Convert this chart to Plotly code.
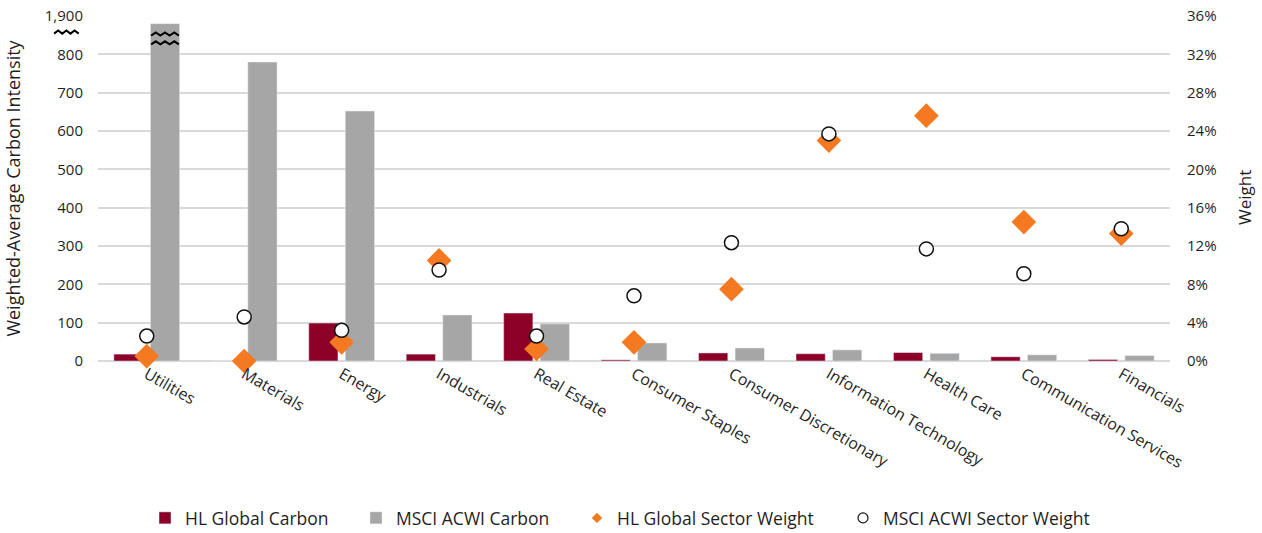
import plotly.graph_objects as go

sectors = ["Utilities", "Materials", "Energy", "Industrials", "Real Estate", "Consumer Staples",
           "Consumer Discretionary", "Information Technology", "Health Care",
           "Communication Services", "Financials"]
hl_carbon = [18, 0, 99, 18, 125, 3, 21, 19, 22, 11, 4]
msci_carbon = [1880, 780, 652, 120, 97, 47, 34, 29, 20, 16, 14]
hl_weight = [0.5, 0.0, 1.95, 10.5, 1.25, 1.95, 7.5, 23.0, 25.6, 14.5, 13.3]
msci_weight = [2.6, 4.6, 3.2, 9.5, 2.6, 6.8, 12.35, 23.7, 11.7, 9.1, 13.8]

left_ticks = [0, 100, 200, 300, 400, 500, 600, 700, 800, 900]
left_ticktext = ["0", "100", "200", "300", "400", "500", "600", "700", "800", "1,900"]
BREAK_SHIFT = 1000  # broken axis: values above 850 are shown 1,000 lower


def shown(v):
    return v - BREAK_SHIFT if v > 850 else v


FONT = "Open Sans"
TXT = "#1f1f1f"
RED = "#8C0028"
GRAY = "#A6A6A6"
ORANGE = "#F47920"

fig = go.Figure()
fig.add_bar(x=sectors, y=hl_carbon, name="HL Global Carbon", marker_color=RED, yaxis="y",
            legend="legend")
fig.add_bar(x=sectors, y=[shown(v) for v in msci_carbon], name="MSCI ACWI Carbon",
            marker_color=GRAY, yaxis="y", legend="legend2")
fig.add_scatter(x=sectors, y=[w / 100 for w in hl_weight], name="HL Global Sector Weight",
                mode="markers", yaxis="y2", showlegend=False, cliponaxis=False,
                marker=dict(symbol="diamond", size=19, color=ORANGE, line=dict(width=0)))
fig.add_scatter(x=sectors, y=[w / 100 for w in msci_weight], name="MSCI ACWI Sector Weight",
                mode="markers", yaxis="y2", showlegend=False, cliponaxis=False,
                marker=dict(symbol="circle", size=14, color="white", line=dict(width=1.5, color="#111")))
# legend entries with smaller symbols
fig.add_scatter(x=[None], y=[None], name="HL Global Sector Weight", mode="markers", yaxis="y2",
                legend="legend3",
                marker=dict(symbol="diamond", size=8, color=ORANGE, line=dict(width=0)))
fig.add_scatter(x=[None], y=[None], name="MSCI ACWI Sector Weight", mode="markers", yaxis="y2",
                legend="legend4",
                marker=dict(symbol="circle", size=10, color="white", line=dict(width=1.2, color="#111")))


def zigzag(x0, x1, y, n, amp):
    pts = []
    step = (x1 - x0) / n
    for i in range(n + 1):
        pts.append((x0 + i * step, y + (amp if i % 2 else -amp)))
    return "M " + " L ".join(f"{px},{py}" for px, py in pts)


shapes = []
for yy in (853, 830):
    shapes.append(dict(type="path", xref="x", yref="y", path=zigzag(0.045, 0.33, yy, 6, 4),
                       line=dict(color="black", width=2)))
shapes.append(dict(type="path", xref="paper", yref="y",
                   path=zigzag(-0.041, -0.018, 858, 6, 4), line=dict(color="black", width=2)))

PW = 1262 - 98 - 92
PH = 533 - 16 - 172


def lx(px):
    return (px - 98) / PW


def ly(py):
    return (361 - py) / PH


legend_common = dict(orientation="h", y=ly(518), yanchor="middle", xanchor="left",
                     font=dict(family=FONT, size=17.5, color=TXT), bgcolor="rgba(0,0,0,0)")

fig.update_layout(
    width=1262, height=533,
    margin=dict(l=98, r=92, t=16, b=172, autoexpand=False),
    paper_bgcolor="white", plot_bgcolor="white",
    font=dict(family=FONT, size=15, color=TXT),
    barmode="group", bargap=0.25, bargroupgap=0.2,
    xaxis=dict(range=[-0.5, len(sectors) - 0.5], tickangle=30, showgrid=False, ticks="",
               automargin=False, tickfont=dict(family=FONT, size=16, color=TXT), showline=False),
    yaxis=dict(range=[0, 900], tickvals=left_ticks, ticktext=left_ticktext, automargin=False,
               showgrid=True, gridcolor="#D9D9D9", gridwidth=1.5, zeroline=True,
               zerolinecolor="#D9D9D9", zerolinewidth=1.5,
               title=dict(text="Weighted-Average Carbon Intensity",
                          font=dict(family=FONT, size=18, color=TXT), standoff=19),
               tickfont=dict(family=FONT, size=15, color=TXT), ticklabelstandoff=14),
    yaxis2=dict(range=[0, 0.36], dtick=0.04, tickformat=".0%", overlaying="y", side="right",
                showgrid=False, zeroline=False, automargin=False,
                tickfont=dict(family=FONT, size=15, color=TXT), ticklabelstandoff=16),
    legend=dict(x=lx(145), **legend_common),
    legend2=dict(x=lx(356), **legend_common),
    legend3=dict(x=lx(577), **legend_common),
    legend4=dict(x=lx(843), **legend_common),
    shapes=shapes,
    annotations=[dict(text="Weight", xref="paper", yref="paper", x=lx(1244), y=ly(198),
                      xanchor="center", yanchor="middle", textangle=-90, showarrow=False,
                      font=dict(family=FONT, size=17, color=TXT))],
)

fig.write_html("out.html")
